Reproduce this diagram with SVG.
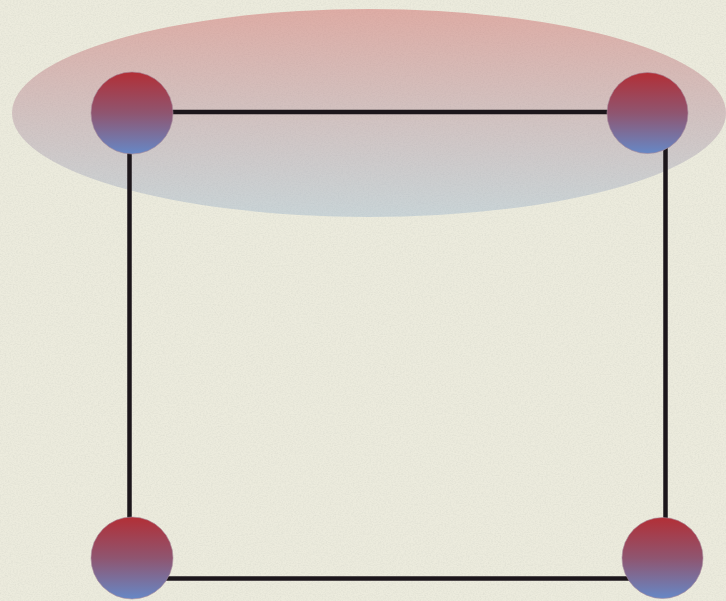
<svg xmlns="http://www.w3.org/2000/svg" width="726" height="601" viewBox="0 0 726 601">
<defs>
<linearGradient id="nodeGrad" x1="0" y1="0" x2="0" y2="1">
<stop offset="0" stop-color="#b22f36"/>
<stop offset="0.5" stop-color="#8f5570"/>
<stop offset="1" stop-color="#6688c6"/>
</linearGradient>
<linearGradient id="groupGrad" x1="0" y1="0" x2="0" y2="1">
<stop offset="0" stop-color="#c8474a" stop-opacity="0.38"/>
<stop offset="1" stop-color="#7b9fc8" stop-opacity="0.3"/>
</linearGradient>
<filter id="paper" x="0" y="0" width="100%" height="100%">
<feTurbulence type="fractalNoise" baseFrequency="0.6 0.9" numOctaves="3" seed="4" result="n"/>
<feColorMatrix in="n" type="matrix" values="0 0 0 0 0.55  0 0 0 0 0.56  0 0 0 0 0.5  0 0 0 -1.4 0.9" result="a"/>
<feComposite in="a" in2="SourceGraphic" operator="in"/>
</filter>
<style>
.edge{fill:none;stroke:#1c161b;stroke-width:4.5;stroke-linecap:butt}
.node{fill:url(#nodeGrad);stroke:#a88a9a;stroke-width:0.6}
</style>
</defs>
<rect width="726" height="601" fill="#ecebdd"/>
<rect width="726" height="601" fill="#ecebdd" filter="url(#paper)" opacity="0.35"/>
<g id="group">
<ellipse cx="369" cy="113" rx="357" ry="104" fill="url(#groupGrad)"/>
</g>
<g id="connectors">
<line class="edge" x1="132" y1="112" x2="647" y2="112"/>
<line class="edge" x1="129.5" y1="113" x2="129.5" y2="558"/>
<line class="edge" x1="665.5" y1="113" x2="665.5" y2="558"/>
<line class="edge" x1="132" y1="578.5" x2="663" y2="578.5"/>
</g>
<g id="node-tl"><circle class="node" cx="132" cy="113" r="41"/></g>
<g id="node-tr"><circle class="node" cx="647.5" cy="113" r="40.5"/></g>
<g id="node-bl"><circle class="node" cx="132" cy="558" r="41"/></g>
<g id="node-br"><circle class="node" cx="662.5" cy="558" r="40.5"/></g>
</svg>
